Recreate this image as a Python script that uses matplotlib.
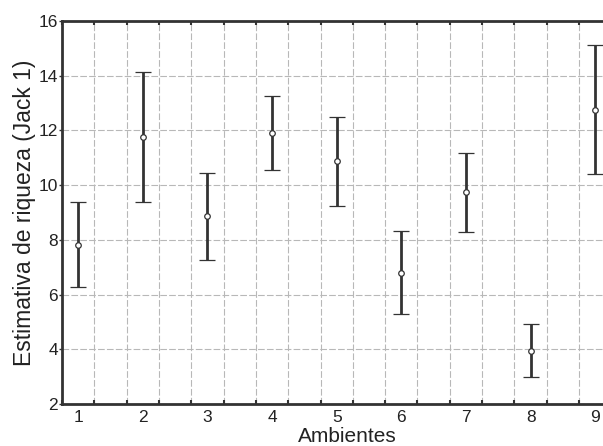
import matplotlib.pyplot as plt
import numpy as np
from matplotlib.ticker import MultipleLocator

plt.rcParams['font.family'] = ['Liberation Sans', 'DejaVu Sans']

ambientes = [1, 2, 3, 4, 5, 6, 7, 8, 9]
media = [7.8, 11.76, 8.87, 11.9, 10.87, 6.8, 9.75, 3.95, 12.75]
inferior = [6.28, 9.37, 7.25, 10.55, 9.25, 5.28, 8.28, 2.99, 10.41]
superior = [9.38, 14.13, 10.44, 13.26, 12.49, 8.32, 11.19, 4.92, 15.12]

media = np.array(media)
yerr = [media - np.array(inferior), np.array(superior) - media]

fig = plt.figure(figsize=(6.03, 4.46), dpi=100)
ax = fig.add_axes([0.1028, 0.0942, 0.8972, 0.8587])

ax.errorbar(ambientes, media, yerr=yerr, fmt='o', color='#333333',
            ecolor='#333333', elinewidth=2, capsize=5.8, capthick=2,
            markersize=4, markerfacecolor='white', markeredgecolor='#333333',
            markeredgewidth=0.9, zorder=3)

ax.set_xlim(0.75, 9.12)
ax.set_ylim(2, 16)
ax.xaxis.set_major_locator(MultipleLocator(1))
ax.xaxis.set_minor_locator(MultipleLocator(0.5, offset=0.25))
ax.yaxis.set_major_locator(MultipleLocator(2))

# grid a tracejado, so nas divisoes intermedias do eixo x
ax.grid(which='minor', axis='x', color='#b8b8b8', linestyle=(0, (6, 2)), linewidth=0.8)
ax.grid(which='major', axis='y', color='#b8b8b8', linestyle=(0, (6, 2)), linewidth=0.8)
ax.set_axisbelow(True)

ax.tick_params(axis='x', which='major', length=0, labelsize=12.5, pad=4, colors='#333333', labelcolor='#222222')
ax.tick_params(axis='x', which='minor', direction='in', length=3, width=1.5,
               top=True, bottom=True, colors='#333333')
ax.tick_params(axis='y', which='major', length=2, width=1, labelsize=12.5, pad=1, colors='#333333', labelcolor='#222222')

for s in ['left', 'bottom', 'top']:
    ax.spines[s].set_linewidth(2)
    ax.spines[s].set_color('#333333')
ax.spines['right'].set_visible(False)

ax.set_xlabel('Ambientes', fontsize=15, labelpad=1.5, color='#222222')
ax.xaxis.label.set_x(0.527)
ax.set_ylabel('Estimativa de riqueza (Jack 1)', fontsize=16.5, labelpad=2, color='#222222')

fig.savefig('out.png', dpi=100)
